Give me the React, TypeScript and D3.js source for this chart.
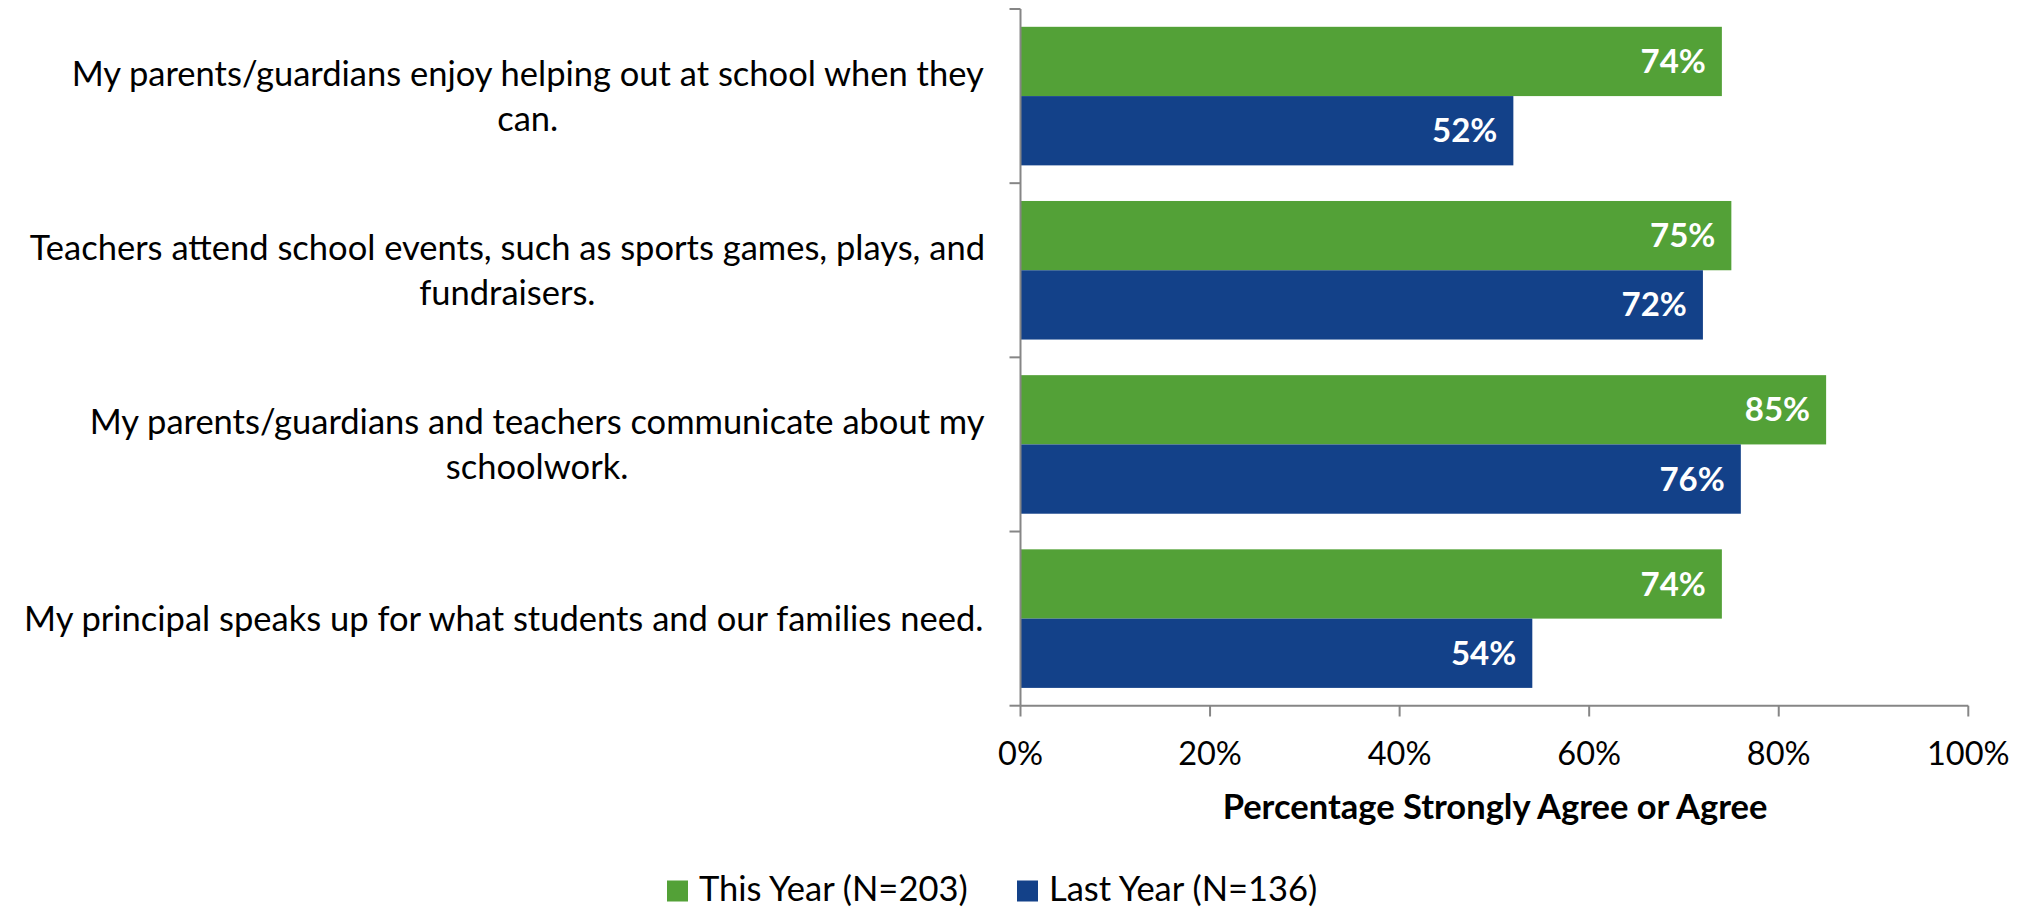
import React from "react";
import * as d3 from "d3";

const categories = [
  ["My parents/guardians enjoy helping out at school when they", "can."],
  ["Teachers attend school events, such as sports games, plays, and", "fundraisers."],
  ["My parents/guardians and teachers communicate about my", "schoolwork."],
  ["My principal speaks up for what students and our families need."],
];
const thisYear = [0.74, 0.75, 0.85, 0.74];
const lastYear = [0.52, 0.72, 0.76, 0.54];
const seriesNames = ["This Year (N=203)", "Last Year (N=136)"];
const xTicks = [0, 0.2, 0.4, 0.6, 0.8, 1.0];
const axisTitle = "Percentage Strongly Agree or Agree";

const W = 2028;
const H = 909;
const FONT = "Lato, 'Open Sans', sans-serif";
const LABEL_SIZE = 34.5;
const TICK_SIZE = 32.5;
const VALUE_SIZE = 33;
const GREEN = "#53A137";
const BLUE = "#134189";
const AXIS = "#868686";

let _ctx: CanvasRenderingContext2D | null = null;
function measure(text: string, size: number, weight = "normal") {
  if (!_ctx) _ctx = document.createElement("canvas").getContext("2d");
  if (!_ctx) return text.length * size * 0.5;
  _ctx.font = `${weight} ${size}px Lato`;
  return _ctx.measureText(text).width;
}

export default function App() {
  const x = d3.scaleLinear().domain([0, 1]).range([1020.5, 1968.3]);
  const idx = categories.map((_, i) => String(i));
  const y = d3.scaleBand().domain(idx).range([9, 705.7]).paddingInner(0).paddingOuter(0);
  const y1 = d3
    .scaleBand()
    .domain(["this", "last"])
    .range([0, y.bandwidth()])
    .paddingInner(0)
    .paddingOuter(0.257);

  const labelRight = 985;
  const lineH = 45;
  const boundaries = idx.map((k) => y(k) as number).concat([705.7]);

  return (
    <div style={{ position: "fixed", left: 0, top: 0, width: W, height: H, background: "#fff" }}>
      <svg width={W} height={H} style={{ display: "block", fontFamily: FONT }}>
        {/* category labels */}
        {categories.map((lines, i) => {
          const maxW = d3.max(lines, (l) => measure(l, LABEL_SIZE)) as number;
          const cx = labelRight - maxW / 2;
          const cy = (y(String(i)) as number) + y.bandwidth() / 2;
          const top = cy - ((lines.length - 1) * lineH) / 2;
          return (
            <text key={i} textAnchor="middle" fontSize={LABEL_SIZE} fill="#000">
              {lines.map((l, j) => (
                <tspan key={j} x={cx} y={top + j * lineH} dy="0.35em">
                  {l}
                </tspan>
              ))}
            </text>
          );
        })}

        {/* bars */}
        {categories.map((_, i) => {
          const by = y(String(i)) as number;
          const vals: [string, number, string][] = [
            ["this", thisYear[i], GREEN],
            ["last", lastYear[i], BLUE],
          ];
          return (
            <g key={i}>
              {vals.map(([k, v, c]) => {
                const yy = by + (y1(k) as number);
                return (
                  <g key={k}>
                    <rect x={x(0)} y={yy} width={x(v) - x(0)} height={y1.bandwidth()} fill={c} />
                    <text
                      x={x(v) - 16}
                      y={yy + y1.bandwidth() / 2}
                      dy="0.35em"
                      textAnchor="end"
                      fontSize={VALUE_SIZE}
                      fontWeight="bold"
                      fill="#fff"
                    >
                      {Math.round(v * 100)}%
                    </text>
                  </g>
                );
              })}
            </g>
          );
        })}

        {/* vertical axis */}
        <line x1={x(0)} x2={x(0)} y1={9} y2={705.7} stroke={AXIS} strokeWidth={2} />
        {boundaries.map((b, i) => (
          <line key={i} x1={x(0) - 11} x2={x(0)} y1={b} y2={b} stroke={AXIS} strokeWidth={2} />
        ))}

        {/* horizontal axis */}
        <line x1={x(0)} x2={x(1)} y1={705.7} y2={705.7} stroke={AXIS} strokeWidth={2} />
        {xTicks.map((t) => (
          <g key={t}>
            <line x1={x(t)} x2={x(t)} y1={705.7} y2={716.5} stroke={AXIS} strokeWidth={2} />
            <text x={x(t)} y={765} textAnchor="middle" fontSize={TICK_SIZE} fill="#000">
              {d3.format(".0%")(t)}
            </text>
          </g>
        ))}
        <text x={1495} y={819} textAnchor="middle" fontSize={LABEL_SIZE} fontWeight="bold" fill="#000">
          {axisTitle}
        </text>

        {/* legend */}
        <rect x={667} y={880.5} width={21} height={21} fill={GREEN} />
        <text x={699} y={889} dy="0.35em" fontSize={LABEL_SIZE} fill="#000">
          {seriesNames[0]}
        </text>
        <rect x={1017} y={880.5} width={21} height={21} fill={BLUE} />
        <text x={1049} y={889} dy="0.35em" fontSize={LABEL_SIZE} fill="#000">
          {seriesNames[1]}
        </text>
      </svg>
    </div>
  );
}
